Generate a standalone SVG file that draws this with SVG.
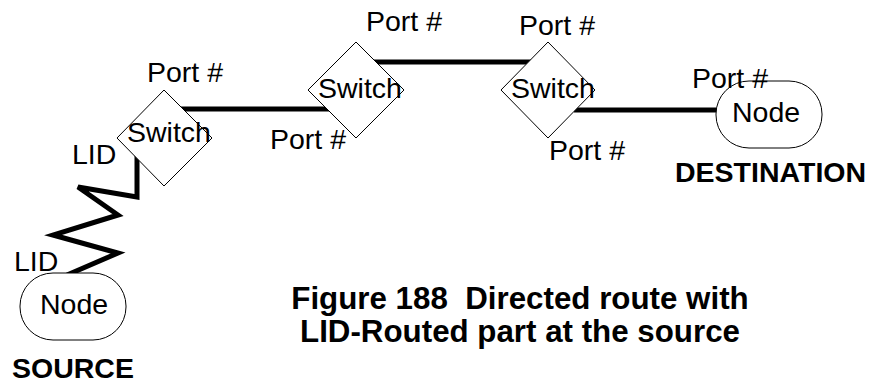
<svg xmlns="http://www.w3.org/2000/svg" width="879" height="388" viewBox="0 0 879 388">
<style>
.t{font-family:"Liberation Sans",Arial,sans-serif;font-size:28.5px;fill:#000}
.b{font-family:"Liberation Sans",Arial,sans-serif;font-size:28.5px;font-weight:bold;fill:#000}
.c{font-family:"Liberation Sans",Arial,sans-serif;font-size:31.3px;font-weight:bold;fill:#000;white-space:pre}
.sw{fill:#fff;stroke:#000;stroke-width:1}
.nd{fill:#fff;stroke:#000;stroke-width:1}
.ln{fill:none;stroke:#000;stroke-width:5}
</style>
<rect width="879" height="388" fill="#fff"/>
<g id="connectors">
<line class="ln" x1="181" y1="109" x2="330" y2="109"/>
<line class="ln" x1="373" y1="62" x2="532" y2="62"/>
<line class="ln" x1="574" y1="110" x2="724" y2="110"/>
<polyline class="ln" points="137,155 137,197 78,187 118,215 53,235 118,253 67,275"/>
</g>
<g id="switch1">
<polygon class="sw" points="164,90 212,138 164,186 117,138"/>
<text class="t" x="127" y="141.5">Switch</text>
</g>
<g id="switch2">
<polygon class="sw" points="356,42 404,90 356,138 308,90"/>
<text class="t" x="318" y="98">Switch</text>
</g>
<g id="switch3">
<polygon class="sw" points="548,42 595,90 548,138 501,90"/>
<text class="t" x="511" y="98">Switch</text>
</g>
<g id="source">
<rect class="nd" x="20" y="273" width="106" height="67" rx="33" ry="33"/>
<text class="t" x="40" y="314">Node</text>
<text class="b" x="12" y="378">SOURCE</text>
</g>
<g id="destination">
<rect class="nd" x="716" y="81" width="106" height="67" rx="33" ry="33"/>
<text class="t" x="732" y="122">Node</text>
<text class="b" x="675" y="182">DESTINATION</text>
</g>
<g id="labels">
<text class="t" x="147" y="82">Port #</text>
<text class="t" x="270" y="149">Port #</text>
<text class="t" x="366" y="31">Port #</text>
<text class="t" x="519" y="35">Port #</text>
<text class="t" x="692" y="88">Port #</text>
<text class="t" x="549" y="160">Port #</text>
<text class="t" x="72" y="164">LID</text>
<text class="t" x="14" y="271">LID</text>
</g>
<g id="caption">
<text class="c" x="520" y="309" text-anchor="middle" xml:space="preserve">Figure 188  Directed route with</text>
<text class="c" x="520" y="342" text-anchor="middle">LID-Routed part at the source</text>
</g>
</svg>
